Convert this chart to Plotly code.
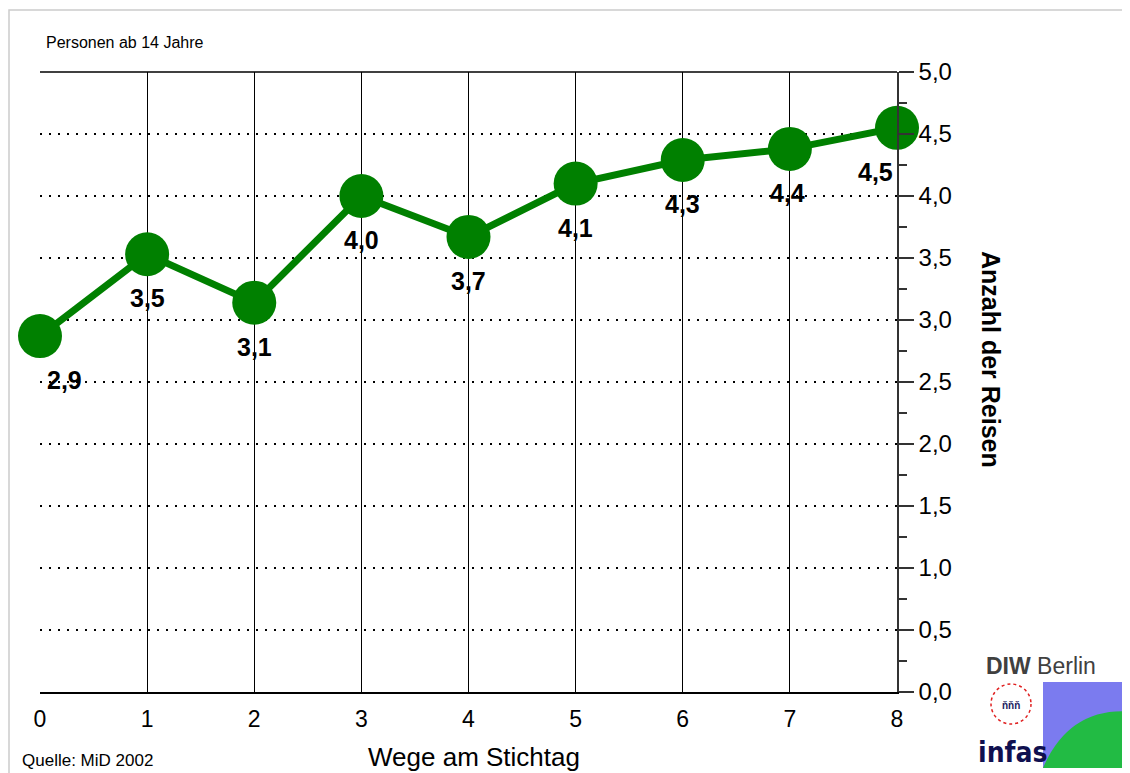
import plotly.graph_objects as go

wege = [0, 1, 2, 3, 4, 5, 6, 7, 8]
reisen = [2.87, 3.53, 3.14, 4.00, 3.67, 4.10, 4.29, 4.38, 4.55]
labels = ["2,9", "3,5", "3,1", "4,0", "3,7", "4,1", "4,3", "4,4", "4,5"]
label_xshift = [24, 0, 0, 0, 0, 0, 0, -2, -22]
ytick_vals = [0, 0.5, 1, 1.5, 2, 2.5, 3, 3.5, 4, 4.5, 5]
ytick_text = ["0,0", "0,5", "1,0", "1,5", "2,0", "2,5", "3,0", "3,5", "4,0", "4,5", "5,0"]

W, H = 1130, 773
OFF = 8  # page body margin
L, R, T, B = 40 - OFF, 897 - OFF, 72 - OFF, 692 - OFF
FONT = "Liberation Sans, Arial, sans-serif"

def px(x):
    return (x - OFF - L) / (R - L)

def py(y):
    return (B - (y - OFF)) / (B - T)

fig = go.Figure()
fig.add_trace(go.Scatter(
    x=wege, y=reisen, mode="lines+markers",
    line=dict(color="#008000", width=7),
    marker=dict(color="#008000", size=44, symbol="circle"),
    cliponaxis=False, hoverinfo="skip"))

for xv, yv, lab, xs in zip(wege, reisen, labels, label_xshift):
    fig.add_annotation(x=xv, y=yv, text="<b>" + lab + "</b>", showarrow=False,
                       xanchor="center", yanchor="middle",
                       xshift=xs, yshift=-44, font=dict(family=FONT, size=25, color="black"))

fig.update_xaxes(range=[0, 8], tickvals=wege, ticktext=[str(w) for w in wege],
                 showgrid=True, gridcolor="#000000", gridwidth=1,
                 showline=True, linecolor="#000000", linewidth=1.5,
                 ticks="", ticklabelstandoff=6, tickfont=dict(family=FONT, size=23, color="black"),
                 zeroline=False, fixedrange=True)
fig.update_yaxes(range=[0, 5], side="right", tickvals=ytick_vals, ticktext=ytick_text,
                 showgrid=True, gridcolor="#000000", gridwidth=2, griddash="2px,7px",
                 showline=True, linecolor="#333333", linewidth=1.5,
                 ticks="outside", ticklen=15, tickwidth=1.5, tickcolor="#333333",
                 minor=dict(dtick=0.25, ticks="outside", ticklen=8, tickwidth=1.5,
                            tickcolor="#333333", showgrid=False),
                 tickfont=dict(family=FONT, size=24, color="black"),
                 zeroline=False, fixedrange=True)

shapes = [
    dict(type="line", xref="paper", yref="paper", x0=0, x1=1, y0=1, y1=1,
         line=dict(color="black", width=1.5)),
    dict(type="rect", xref="paper", yref="paper", x0=px(9), x1=px(1145), y0=py(10), y1=py(800),
         line=dict(color="#cccccc", width=1.5), layer="below"),
    dict(type="rect", xref="paper", yref="paper", x0=px(1043), x1=px(1135), y0=py(682), y1=py(768),
         line=dict(width=0), fillcolor="#7b7bef"),
    dict(type="path", xref="paper", yref="paper",
         path="M %f,%f Q %f,%f %f,%f L %f,%f Z" % (px(1043), py(768), px(1070), py(705), px(1135), py(712),
                                                   px(1135), py(768)),
         line=dict(width=0), fillcolor="#22bb44"),
    dict(type="circle", xref="paper", yref="paper", x0=px(991), x1=px(1031), y0=py(684), y1=py(724),
         line=dict(color="#e02020", width=1.5, dash="dot")),
]
fig.update_layout(shapes=shapes)

def note(x, y, text, size, xanchor="center", angle=0, family=FONT, color="black"):
    fig.add_annotation(x=px(x), y=py(y), xref="paper", yref="paper", text=text,
                       textangle=angle, showarrow=False, xanchor=xanchor, yanchor="middle",
                       font=dict(family=family, size=size, color=color))

note(991, 360, "<b>Anzahl der Reisen</b>", 25, angle=90)
note(474, 757, "Wege am Stichtag", 26)
note(44, 42, "Personen ab 14 Jahre", 16, xanchor="left")
note(20, 760, "Quelle: MiD 2002", 17, xanchor="left")
note(984, 666, "<b>DIW</b> Berlin", 23, xanchor="left", color="#404040")
note(1011, 706, "<b>ňňň</b>", 10, color="#202060")
note(1013, 752, "<b>infas</b>", 28, family="DejaVu Sans Condensed, sans-serif", color="#101050")

fig.update_layout(width=W, height=H, margin=dict(l=L, r=W - R, t=T, b=H - B),
                  paper_bgcolor="white", plot_bgcolor="white", showlegend=False)

fig.write_html("out.html")
